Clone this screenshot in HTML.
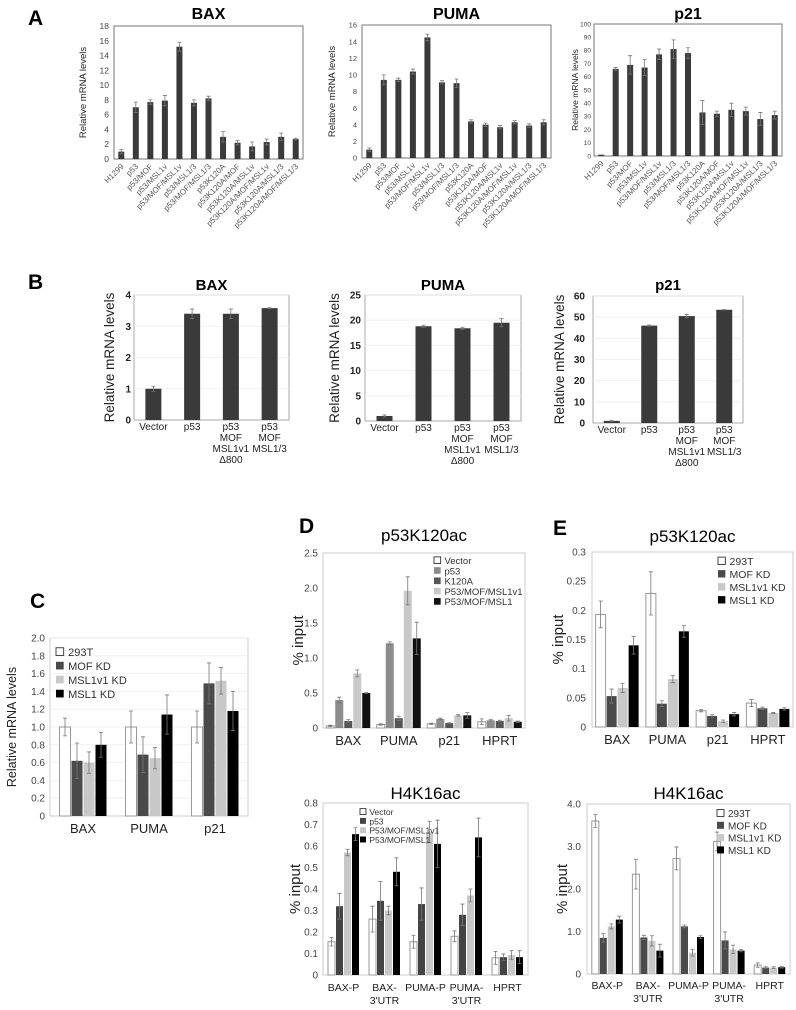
<!DOCTYPE html>
<html><head><meta charset="utf-8"><style>
html,body{margin:0;padding:0;background:#fff;}
svg{display:block;font-family:"Liberation Sans",Arial,sans-serif;}
</style></head><body>
<svg id="fig" width="796" height="1010" viewBox="0 0 796 1010" xmlns="http://www.w3.org/2000/svg">
<g font-weight="bold" font-size="21" fill="#000">
<text x="28" y="25">A</text>
<text x="28" y="289">B</text>
<text x="30" y="608">C</text>
<text x="299" y="533">D</text>
<text x="553" y="535">E</text>
</g>
</svg>
<script>
// ---------- Panel A data ----------
const aCats = ["H1299","p53","p53/MOF","p53/MSL1v","p53/MOF/MSL1v","p53/MSL1/3","p53/MOF/MSL1/3","p53K120A","p53K120A/MOF","p53K120A/MSL1v","p53K120A/MOF/MSL1v","p53K120A/MSL1/3","p53K120A/MOF/MSL1/3"];
const aBaxVals = [1,7.0,7.7,7.9,15.2,7.6,8.2,3.0,2.2,1.7,2.3,3.0,2.7];
const aBaxErr = [0.3,0.7,0.3,0.7,0.6,0.4,0.3,0.7,0.3,0.6,0.4,0.5,0.1];
const aBaxTicks = ["0","2","4","6","8","10","12","14","16","18"];
const aPumaVals = [1,9.4,9.4,10.4,14.5,9.1,9.0,4.4,4.0,3.7,4.3,3.9,4.3];
const aPumaErr = [0.2,0.6,0.2,0.3,0.4,0.2,0.5,0.2,0.2,0.2,0.2,0.2,0.3];
const aPumaTicks = ["0","2","4","6","8","10","12","14","16"];
const aP21Vals = [1,66,69,67,77,81,78,33,32,35,34,28,31];
const aP21Err = [0,1,7,6,4,7,4,9,2,5,3,5,3];
const aP21Ticks = ["0","10","20","30","40","50","60","70","80","90","100"];
// ---------- Panel B data ----------
const bCats = ["Vector","p53","p53\nMOF\nMSL1v1\n\u0394800","p53\nMOF\nMSL1/3"];
const bBaxVals = [1,3.4,3.4,3.58];
const bBaxErr = [0.08,0.15,0.15,0.01];
const bBaxTicks = ["0","1","2","3","4"];
const bPumaVals = [1,18.8,18.4,19.5];
const bPumaErr = [0.2,0.2,0.2,0.8];
const bPumaTicks = ["0","5","10","15","20","25"];
const bP21Vals = [1,46,50.5,53.5];
const bP21Err = [0.3,0.3,0.8,0.1];
const bP21Ticks = ["0","10","20","30","40","50","60"];
// ---------- Panel C data ----------
const cCats = ["BAX","PUMA","p21"];
const cSeriesNames = ["293T","MOF KD","MSL1v1 KD","MSL1 KD"];
const c293T = [1.0,1.0,1.0];
const cMOF = [0.62,0.69,1.49];
const cMSL1v1 = [0.60,0.65,1.52];
const cMSL1 = [0.80,1.14,1.18];
const cErr293T = [0.1,0.18,0.18];
const cErrMOF = [0.2,0.2,0.23];
const cErrMSL1v1 = [0.12,0.12,0.15];
const cErrMSL1 = [0.14,0.22,0.22];
const cTicks = ["0","0.2","0.4","0.6","0.8","1.0","1.2","1.4","1.6","1.8","2.0"];
// ---------- Panel D top ----------
const dTopCats = ["BAX","PUMA","p21","HPRT"];
const dTopNames = ["Vector","p53","K120A","P53/MOF/MSL1v1","P53/MOF/MSL1"];
const dTopVector = [0.03,0.05,0.06,0.09];
const dTopP53 = [0.40,1.21,0.13,0.11];
const dTopK120A = [0.10,0.14,0.07,0.10];
const dTopMSL1v1 = [0.78,1.96,0.18,0.14];
const dTopMSL1 = [0.50,1.28,0.18,0.09];
const dTopErrVector = [0.01,0.01,0.01,0.04];
const dTopErrP53 = [0.04,0.02,0.01,0.01];
const dTopErrK120A = [0.02,0.03,0.005,0.01];
const dTopErrMSL1v1 = [0.05,0.2,0.01,0.04];
const dTopErrMSL1 = [0.005,0.23,0.04,0.01];
const dTopTicks = ["0","0.5","1.0","1.5","2.0","2.5"];
// ---------- Panel D bottom ----------
const dBotCats = ["BAX-P","BAX-\n3'UTR","PUMA-P","PUMA-\n3'UTR","HPRT"];
const dBotNames = ["Vector","p53","P53/MOF/MSL1v1","P53/MOF/MSL1"];
const dBotVector = [0.155,0.26,0.155,0.18,0.08];
const dBotP53 = [0.32,0.345,0.33,0.28,0.083];
const dBotMSL1v1 = [0.57,0.30,0.665,0.37,0.093];
const dBotMSL1 = [0.655,0.48,0.61,0.64,0.083];
const dBotErrVector = [0.02,0.06,0.03,0.025,0.03];
const dBotErrP53 = [0.06,0.09,0.075,0.05,0.015];
const dBotErrMSL1v1 = [0.015,0.02,0.05,0.03,0.02];
const dBotErrMSL1 = [0.03,0.065,0.11,0.09,0.03];
const dBotTicks = ["0","0.1","0.2","0.3","0.4","0.5","0.6","0.7","0.8"];
// ---------- Panel E top ----------
const eTopCats = ["BAX","PUMA","p21","HPRT"];
const eNames = ["293T","MOF KD","MSL1v1 KD","MSL1 KD"];
const eTop293T = [0.193,0.229,0.028,0.041];
const eTopMOF = [0.053,0.040,0.019,0.032];
const eTopMSL1v1 = [0.067,0.082,0.010,0.024];
const eTopMSL1 = [0.140,0.164,0.022,0.031];
const eTopErr293T = [0.023,0.037,0.002,0.006];
const eTopErrMOF = [0.012,0.005,0.002,0.002];
const eTopErrMSL1v1 = [0.008,0.006,0.002,0.001];
const eTopErrMSL1 = [0.015,0.01,0.003,0.002];
const eTopTicks = ["0","0.05","0.1","0.15","0.2","0.25","0.3"];
// ---------- Panel E bottom ----------
const eBotCats = ["BAX-P","BAX-\n3'UTR","PUMA-P","PUMA-\n3'UTR","HPRT"];
const eBot293T = [3.6,2.35,2.72,3.12,0.21];
const eBotMOF = [0.85,0.86,1.12,0.79,0.15];
const eBotMSL1v1 = [1.12,0.78,0.50,0.58,0.15];
const eBotMSL1 = [1.28,0.55,0.87,0.55,0.16];
const eBotErr293T = [0.15,0.35,0.27,0.22,0.05];
const eBotErrMOF = [0.1,0.05,0.03,0.2,0.02];
const eBotErrMSL1v1 = [0.06,0.12,0.08,0.1,0.02];
const eBotErrMSL1 = [0.08,0.15,0.03,0.03,0.02];
const eBotTicks = ["0","1.0","2.0","3.0","4.0"];

const NS = "http://www.w3.org/2000/svg";
const fig = document.getElementById('fig');
function mk(tag, attrs, parent){
  const e = document.createElementNS(NS, tag);
  for (const k in attrs) e.setAttribute(k, attrs[k]);
  (parent||fig).appendChild(e);
  return e;
}

function chart(o){
  const g = mk('g', {});
  
  
  const max = parseFloat(o.ticks[o.ticks.length-1]);
  const Y = v => o.b - v/max*(o.b - o.t);
  if (o.title){
    const t = mk('text', {x:o.titleX||(o.l+o.r)/2, y:o.titleY, 'text-anchor':'middle', 'font-size':o.titleSize, 'font-weight':o.titleBold?'bold':'normal', fill:'#000'}, g);
    t.textContent = o.title;
    
    
  }
  const fr = mk('rect', {x:o.l, y:o.t, width:o.r-o.l, height:o.b-o.t, fill:'none', stroke:o.frame||'#999', 'stroke-width':1}, g);
  
  
  o.ticks.forEach(tl => {
    const v = parseFloat(tl);
    if (o.grid && v>0){
      const gl = mk('line', {x1:o.l, x2:o.r, y1:Y(v), y2:Y(v), stroke:'#eee', 'stroke-width':0.8}, g);
      
      
    }
    const t = mk('text', {x:o.tickX, y:Y(v)+o.tickSize*0.35, 'text-anchor':'end', 'font-size':o.tickSize, 'font-weight':o.tickBold?'bold':'normal', fill:o.tickColor||'#333'}, g);
    t.textContent = tl;
    
    
  });
  const yl = mk('text', {x:0, y:0, 'text-anchor':'middle', 'font-size':o.ylabSize, fill:'#222', transform:'translate('+o.ylabX+','+((o.t+o.b)/2)+') rotate(-90)'}, g);
  yl.textContent = o.ylab;
  
  
  const n = o.cats.length, gw = (o.r-o.l)/n, ns = o.series.length;
  o.cats.forEach((c, i) => {
    const cx = o.l + (i+0.5)*gw;
    o.series.forEach((s, j) => {
      const x = cx - ns*o.bw/2 + j*o.bw;
      const v = s[i];
      const r = mk('rect', {x:x+0.5, y:Y(v), width:o.bw-1, height:o.b-Y(v), fill:o.colors[j], stroke:o.strokes[j], 'stroke-width':o.strokes[j]==='none'?0:1}, g);
      
      
      const e = o.errs[j][i];
      if (e>0){
        const ex = x + o.bw/2;
        const el = mk('path', {d:'M'+ex+','+Y(v-e)+'V'+Y(v+e)+'M'+(ex-2)+','+Y(v+e)+'H'+(ex+2)+'M'+(ex-2)+','+Y(v-e)+'H'+(ex+2), stroke:'#777', 'stroke-width':0.8, fill:'none'}, g);
        
        
      }
    });
    if (o.rot){
      const t = mk('text', {x:cx+3, y:o.b+8, 'text-anchor':'end', 'font-size':o.catSize, fill:'#555', transform:'rotate(-45,'+(cx+3)+','+(o.b+8)+')'}, g);
      t.textContent = c;
      
      
    } else {
      const t = mk('text', {x:cx, y:o.b+o.catDy, 'text-anchor':'middle', 'font-size':o.catSize, fill:'#222'}, g);
      
      
      c.split('\n').forEach((line, k) => {
        const ts = mk('tspan', {x:cx, dy:k===0?0:o.catLH}, t);
        ts.textContent = line;
      });
    }
  });
  if (o.legend){
    o.legend.forEach((nm, j) => {
      const y = o.legY + j*o.legStep;
      const sw = mk('rect', {x:o.legX, y:y-o.legSize*0.75, width:o.legSize*0.7, height:o.legSize*0.7, fill:o.colors[j], stroke:o.strokes[j]==='none'?'none':'#333', 'stroke-width':0.9}, g);
      
      
      const t = mk('text', {x:o.legX+o.legSize*1.1, y:y, 'font-size':o.legSize, fill:'#333'}, g);
      t.textContent = nm;
      
      
    });
  }
}

const A = {rot:true, bw:7, colors:['#3a3a3a'], strokes:['none'], tickSize:8.5, tickColor:'#444', ylabSize:9.5, ylab:'Relative mRNA levels', catSize:8, titleSize:16, titleBold:true, titleY:19, frame:'#777'};
chart(Object.assign({}, A, {name:'chart-a-bax', title:'BAX', l:114, r:303, t:26, b:159, tickX:109, ylabX:86, cats:aCats, series:[aBaxVals], errs:[aBaxErr], ticks:aBaxTicks}));
chart(Object.assign({}, A, {name:'chart-a-puma', title:'PUMA', l:362, r:551, t:25, b:158, tickX:357, ylabX:335, cats:aCats, series:[aPumaVals], errs:[aPumaErr], ticks:aPumaTicks, tickSize:7.5}));
chart(Object.assign({}, A, {name:'chart-a-p21', title:'p21', l:594, r:782, t:24, b:156, tickX:591, ylabX:578, ylabSize:8.5, cats:aCats, series:[aP21Vals], errs:[aP21Err], ticks:aP21Ticks, tickSize:6.5}));

const B = {bw:17, colors:['#3a3a3a'], strokes:['none'], tickSize:10, tickBold:true, tickColor:'#222', ylabSize:13.5, ylab:'Relative mRNA levels', catSize:10, catDy:10, catLH:11, titleSize:15, titleBold:true, titleY:290, frame:'#aaa', grid:true};
chart(Object.assign({}, B, {name:'chart-b-bax', title:'BAX', l:134, r:289, t:295, b:420, tickX:131, ylabX:114, cats:bCats, series:[bBaxVals], errs:[bBaxErr], ticks:bBaxTicks}));
chart(Object.assign({}, B, {name:'chart-b-puma', title:'PUMA', l:365, r:521, t:295, b:421, tickX:361, ylabX:339, cats:bCats, series:[bPumaVals], errs:[bPumaErr], ticks:bPumaTicks}));
chart(Object.assign({}, B, {name:'chart-b-p21', title:'p21', l:593, r:743, t:296, b:423, tickX:585, ylabX:564, cats:bCats, series:[bP21Vals], errs:[bP21Err], ticks:bP21Ticks}));

const grpC = ['#fff','#4a4a4a','#c8c8c8','#000'];
const grpS = ['#999','none','none','none'];
chart({name:'chart-c', l:50, r:248, t:638, b:816, tickX:45, tickSize:10, tickColor:'#444', ylab:'Relative mRNA levels', ylabX:16, ylabSize:12.5, cats:cCats, series:[c293T,cMOF,cMSL1v1,cMSL1], errs:[cErr293T,cErrMOF,cErrMSL1v1,cErrMSL1], ticks:cTicks, colors:grpC, strokes:grpS, bw:12, catSize:13, catDy:17, catLH:13, frame:'#ccc', grid:true, legend:cSeriesNames, legX:56, legY:656, legStep:14, legSize:11});

chart({name:'chart-d-top', title:'p53K120ac', titleY:541, titleSize:17, l:323, r:525, t:553, b:728, tickX:318, tickSize:10, tickColor:'#444', ylab:'% input', ylabX:303, ylabSize:15, cats:dTopCats, series:[dTopVector,dTopP53,dTopK120A,dTopMSL1v1,dTopMSL1], errs:[dTopErrVector,dTopErrP53,dTopErrK120A,dTopErrMSL1v1,dTopErrMSL1], ticks:dTopTicks, colors:['#fff','#8c8c8c','#555','#c8c8c8','#111'], strokes:['#999','none','none','none','none'], bw:9, catSize:13, catDy:17, catLH:13, frame:'#ccc', legend:dTopNames, legX:434, legY:564, legStep:10.3, legSize:9.5});

chart({name:'chart-d-bottom', title:'H4K16ac', titleY:799, titleSize:17, l:323, r:528, t:803, b:975, tickX:318, tickSize:10, tickColor:'#444', ylab:'% input', ylabX:300, ylabSize:15, cats:dBotCats, series:[dBotVector,dBotP53,dBotMSL1v1,dBotMSL1], errs:[dBotErrVector,dBotErrP53,dBotErrMSL1v1,dBotErrMSL1], ticks:dBotTicks, colors:['#fff','#444','#c8c8c8','#000'], strokes:['#999','none','none','none'], bw:8, catSize:10.5, catDy:16, catLH:13, frame:'#ccc', legend:dBotNames, legX:360, legY:815, legStep:9.3, legSize:8.5});

chart({name:'chart-e-top', title:'p53K120ac', titleY:542, titleSize:17, l:592, r:793, t:552, b:727, tickX:586, tickSize:10, tickColor:'#444', ylab:'% input', ylabX:563, ylabSize:15, cats:eTopCats, series:[eTop293T,eTopMOF,eTopMSL1v1,eTopMSL1], errs:[eTopErr293T,eTopErrMOF,eTopErrMSL1v1,eTopErrMSL1], ticks:eTopTicks, colors:grpC, strokes:grpS, bw:11, catSize:13, catDy:17, catLH:13, frame:'#ccc', legend:eNames, legX:718, legY:565, legStep:13, legSize:10.5});

chart({name:'chart-e-bottom', title:'H4K16ac', titleY:799, titleSize:17, l:587, r:790, t:804, b:974, tickX:581, tickSize:10, tickColor:'#444', ylab:'% input', ylabX:567, ylabSize:15, cats:eBotCats, series:[eBot293T,eBotMOF,eBotMSL1v1,eBotMSL1], errs:[eBotErr293T,eBotErrMOF,eBotErrMSL1v1,eBotErrMSL1], ticks:eBotTicks, colors:grpC, strokes:grpS, bw:8, catSize:10.5, catDy:15, catLH:13, frame:'#ccc', legend:eNames, legX:717, legY:817, legStep:12.3, legSize:10});
</script>
</body></html>
